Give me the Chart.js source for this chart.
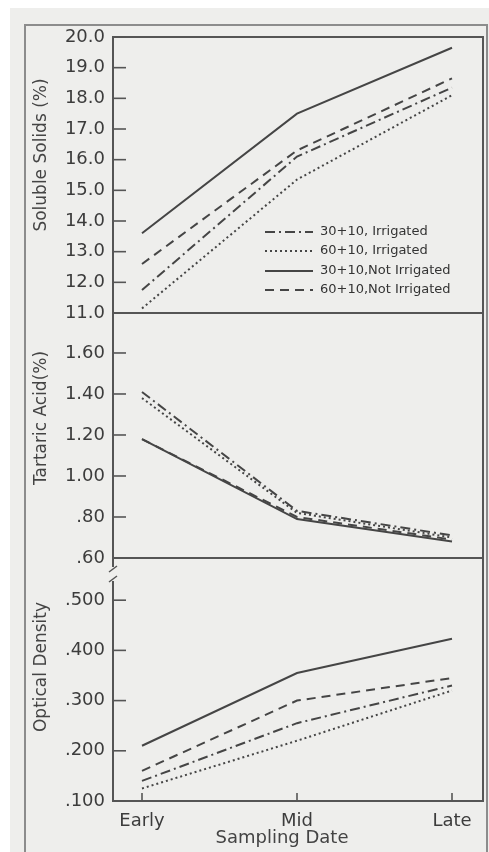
<!DOCTYPE html>
<html>
<head>
<meta charset="utf-8">
<script src="https://cdn.jsdelivr.net/npm/chart.js@4.4.1/dist/chart.umd.min.js"></script>
<style>
  html, body { margin: 0; padding: 0; background: #fff; }
  #page { position: relative; width: 489px; height: 852px; overflow: hidden; }
  #paper { position: absolute; left: 10px; top: 8px; right: 0; bottom: 0; background: #eeeeec; }
  #frame { position: absolute; left: 24px; top: 24px; width: 460px; height: 860px; border: 2px solid #8c8c8c; }
  canvas { position: absolute; left: 0; top: 0; }
</style>
</head>
<body>
<div id="page">
  <div id="paper"></div>
  <div id="frame"></div>
  <canvas id="solidsChart" width="489" height="852"></canvas>
  <canvas id="acidChart" width="489" height="852"></canvas>
  <canvas id="densityChart" width="489" height="852"></canvas>
</div>
<script>
const samplingDates = ['Early', 'Mid', 'Late'];
const seriesNames = ['30+10, Irrigated', '60+10, Irrigated', '30+10,Not Irrigated', '60+10,Not Irrigated'];

// Soluble solids (%)
const solids30Irr = [11.75, 16.1, 18.35];
const solids60Irr = [11.15, 15.35, 18.1];
const solids30Dry = [13.6, 17.5, 19.65];
const solids60Dry = [12.6, 16.3, 18.65];

// Tartaric acid (%)
const acid30Irr = [1.41, 0.83, 0.71];
const acid60Irr = [1.38, 0.82, 0.70];
const acid30Dry = [1.18, 0.79, 0.68];
const acid60Dry = [1.18, 0.80, 0.69];

// Optical density
const density30Irr = [0.14, 0.255, 0.33];
const density60Irr = [0.125, 0.22, 0.32];
const density30Dry = [0.21, 0.355, 0.423];
const density60Dry = [0.16, 0.30, 0.345];

// tick values
const solidsTicks = [11, 12, 13, 14, 15, 16, 17, 18, 19, 20];
const acidTicks = [0.6, 0.8, 1.0, 1.2, 1.4, 1.6];
const densityTicks = [0.1, 0.2, 0.3, 0.4, 0.5];

const ink = '#454545';
const dashes = [[10, 4, 2, 4], [2, 3], [], [9, 6]];
const fontFamily = '"DejaVu Sans", sans-serif';

// draws the panel box, inner tick marks, legend, titles and axis break
const panelDecor = {
    id: 'panelDecor',
    afterDraw(chart, args, opts) {
        const ctx = chart.ctx;
        const area = chart.chartArea;
        const yScale = chart.scales.y;
        ctx.save();
        ctx.strokeStyle = '#555';
        ctx.lineWidth = 2;
        ctx.setLineDash([]);
        ctx.strokeRect(area.left, area.top, area.right - area.left, area.bottom - area.top);

        // inner y ticks
        ctx.lineWidth = 1.6;
        yScale.ticks.forEach(t => {
            const y = yScale.getPixelForValue(t.value);
            ctx.beginPath();
            ctx.moveTo(area.left, y);
            ctx.lineTo(area.left + 13, y);
            ctx.stroke();
        });

        // inner x ticks on the bottom panel
        if (opts.xTicks) {
            const xScale = chart.scales.x;
            xScale.ticks.forEach(t => {
                const x = xScale.getPixelForValue(t.value);
                ctx.beginPath();
                ctx.moveTo(x, area.bottom);
                ctx.lineTo(x, area.bottom - 8);
                ctx.stroke();
            });
        }

        // axis break mark
        if (opts.axisBreak) {
            ctx.fillStyle = '#eeeeec';
            ctx.fillRect(area.left - 3, area.top + 9, 6, 14);
            ctx.lineWidth = 1.5;
            ctx.beginPath();
            ctx.moveTo(area.left - 4, area.top + 14);
            ctx.lineTo(area.left + 4, area.top + 8);
            ctx.moveTo(area.left - 4, area.top + 24);
            ctx.lineTo(area.left + 4, area.top + 18);
            ctx.stroke();
        }

        // legend
        if (opts.legend) {
            const rows = [232, 251, 271, 290];
            ctx.font = '13px ' + fontFamily;
            ctx.fillStyle = '#333';
            ctx.textBaseline = 'middle';
            ctx.textAlign = 'left';
            chart.data.datasets.forEach((ds, i) => {
                ctx.strokeStyle = ink;
                ctx.lineWidth = 1.8;
                ctx.setLineDash(ds.borderDash);
                ctx.beginPath();
                ctx.moveTo(265, rows[i]);
                ctx.lineTo(313, rows[i]);
                ctx.stroke();
                ctx.setLineDash([]);
                ctx.fillText(ds.label, 320, rows[i]);
            });
        }

        // axis titles
        ctx.fillStyle = '#444';
        ctx.font = '17px ' + fontFamily;
        ctx.textAlign = 'center';
        ctx.textBaseline = 'middle';
        if (opts.yTitle) {
            ctx.save();
            ctx.translate(42, opts.yTitle.y);
            ctx.rotate(-Math.PI / 2);
            ctx.fillText(opts.yTitle.text, 0, 0);
            ctx.restore();
        }
        if (opts.xTitle) {
            ctx.font = '18px ' + fontFamily;
            ctx.fillText(opts.xTitle.text, opts.xTitle.x, opts.xTitle.y);
        }
        ctx.restore();
    }
};

function buildDatasets(values) {
    return values.map((vals, i) => ({
        label: seriesNames[i],
        data: vals.map((v, k) => ({ x: k, y: v })),
        borderColor: ink,
        borderWidth: 2,
        borderDash: dashes[i],
        pointRadius: 0,
        tension: 0,
        fill: false
    }));
}

function createPanel(canvasId, values, yMin, yMax, yTicks, formatTick, areaTop, areaBottom, decor, showX) {
    const xHeight = showX ? 34 : 0;
    return new Chart(document.getElementById(canvasId), {
        type: 'line',
        data: { datasets: buildDatasets(values) },
        plugins: [panelDecor],
        options: {
            responsive: false,
            animation: false,
            events: [],
            layout: {
                padding: { top: areaTop, bottom: 852 - areaBottom - xHeight, left: 0, right: 6 }
            },
            plugins: {
                legend: { display: false },
                tooltip: { enabled: false },
                panelDecor: decor
            },
            scales: {
                x: {
                    type: 'linear',
                    display: showX,
                    min: -29 / 155,
                    max: 2 + 31 / 155,
                    grid: { display: false, drawTicks: false },
                    border: { display: false },
                    afterBuildTicks: scale => {
                        scale.ticks = samplingDates.map((d, i) => ({ value: i }));
                    },
                    afterFit: scale => { scale.height = xHeight; },
                    ticks: {
                        padding: 10,
                        color: '#3c3c3c',
                        font: { family: fontFamily, size: 18 },
                        callback: v => samplingDates[v]
                    }
                },
                y: {
                    min: yMin,
                    max: yMax,
                    grid: { display: false, drawTicks: false },
                    border: { display: false },
                    afterBuildTicks: scale => {
                        scale.ticks = yTicks.map(v => ({ value: v }));
                    },
                    afterFit: scale => { scale.width = 113; },
                    ticks: {
                        padding: 8,
                        color: '#3c3c3c',
                        font: { family: fontFamily, size: 18 },
                        callback: formatTick
                    }
                }
            }
        }
    });
}

const dropZero = s => s.replace(/^0\./, '.');

createPanel('solidsChart',
    [solids30Irr, solids60Irr, solids30Dry, solids60Dry],
    11, 20, solidsTicks, v => v.toFixed(1), 37, 313,
    { legend: true, yTitle: { text: 'Soluble Solids (%)', y: 155 } }, false);

createPanel('acidChart',
    [acid30Irr, acid60Irr, acid30Dry, acid60Dry],
    0.6, 1.795, acidTicks, v => dropZero(v.toFixed(2)), 313, 558,
    { yTitle: { text: 'Tartaric Acid(%)', y: 418 } }, false);

createPanel('densityChart',
    [density30Irr, density60Irr, density30Dry, density60Dry],
    0.1, 0.584, densityTicks, v => dropZero(v.toFixed(3)), 558, 801,
    { xTicks: true, axisBreak: true, yTitle: { text: 'Optical Density', y: 667 },
      xTitle: { text: 'Sampling Date', x: 282, y: 838 } }, true);
</script>
</body>
</html>
